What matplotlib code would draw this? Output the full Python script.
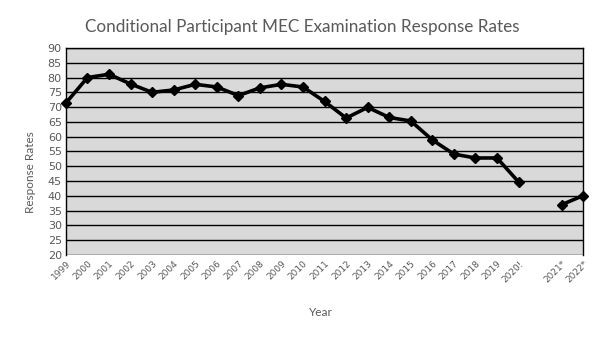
import numpy as np
import matplotlib.pyplot as plt

# Survey years (blank slot marks the gap before 2021)
years = ['1999', '2000', '2001', '2002', '2003', '2004', '2005', '2006', '2007',
         '2008', '2009', '2010', '2011', '2012', '2013', '2014', '2015', '2016',
         '2017', '2018', '2019', '2020!', '', '2021*', '2022*']

# Response rates (%)
rates = [71.4, 80.0, 81.1, 77.8, 75.0, 75.8, 77.7, 76.8, 73.9, 76.5, 77.7, 76.8,
         71.9, 66.3, 69.9, 66.5, 65.3, 58.9, 54.1, 52.8, 52.8, 44.7, np.nan,
         37.0, 40.1]

fig = plt.figure(figsize=(6.05, 3.4), dpi=100)
ax = fig.add_axes([0.109, 0.25, 0.855, 0.609])

x = np.arange(len(years))
ax.plot(x, rates, color='black', linewidth=2.6, marker='D', markersize=5,
        clip_on=False, zorder=3)

ax.set_facecolor('#d9d9d9')
ax.set_xlim(0, len(years) - 1)
ax.set_ylim(20, 90)
ax.set_yticks(range(20, 91, 5))
ax.yaxis.grid(True, color='black', linewidth=1.0)
ax.set_axisbelow(True)

ax.set_xticks(x)
ax.set_xticklabels(years, rotation=45, ha='right', rotation_mode='anchor')
ax.tick_params(axis='both', length=0, colors='#595959', pad=3)
ax.tick_params(axis='y', labelsize=8)
ax.tick_params(axis='x', labelsize=6.5)

for side in ['left', 'right', 'top']:
    ax.spines[side].set_color('black')
    ax.spines[side].set_linewidth(1.0)
ax.spines['bottom'].set_visible(False)

# title and axis titles placed in figure coordinates
fig.text(0.5, 1 - 27 / 340, 'Conditional Participant MEC Examination Response Rates',
         fontsize=12.3, color='#595959', family='Lato', ha='center', va='center')
fig.text(321 / 605, 1 - 312 / 340, 'Year', fontsize=8.5, color='#595959',
         family='Lato', ha='center', va='center')
fig.text(30 / 605, 1 - 172 / 340, 'Response Rates', fontsize=8.5, color='#595959',
         family='Lato', ha='center', va='center', rotation=90)

plt.savefig('out.png', dpi=100)
